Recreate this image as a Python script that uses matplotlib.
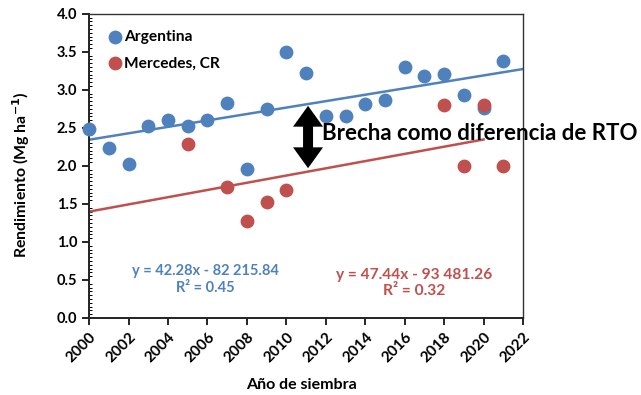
import matplotlib.pyplot as plt
import numpy as np

plt.rcParams['font.family'] = ['Lato', 'DejaVu Sans']

# data
years_arg = [2000, 2001, 2002, 2003, 2004, 2005, 2006, 2007, 2008, 2009, 2010,
             2011, 2012, 2013, 2014, 2015, 2016, 2017, 2018, 2019, 2020, 2021]
yield_arg = [2.48, 2.24, 2.03, 2.53, 2.61, 2.53, 2.61, 2.83, 1.96, 2.75, 3.50,
             3.22, 2.66, 2.66, 2.82, 2.87, 3.30, 3.18, 3.21, 2.93, 2.76, 3.38]

years_cr = [2005, 2007, 2008, 2009, 2010, 2018, 2019, 2020, 2021]
yield_cr = [2.29, 1.72, 1.28, 1.53, 1.68, 2.80, 2.00, 2.80, 2.00]

# trend equations (kg/ha), as printed on the chart
slope_arg, icpt_arg = 42.28, -82215.84
slope_cr, icpt_cr = 47.44, -93481.26
r2_arg, r2_cr = 0.45, 0.32

blue = '#4F81BD'
red = '#C0504D'

fig = plt.figure(figsize=(6.41, 3.95), dpi=100)
ax = fig.add_axes([0.139, 0.195, 0.677, 0.77])

ax.scatter(years_arg, yield_arg, s=80, color=blue, label='Argentina', zorder=3, clip_on=False)
ax.scatter(years_cr, yield_cr, s=80, color=red, label='Mercedes, CR', zorder=3, clip_on=False)

xa = np.array([2000, 2022])
ax.plot(xa, (slope_arg * xa + icpt_arg) / 1000, color=blue, lw=1.8, zorder=2)
xc = np.array([2000, 2020])
ax.plot(xc, (slope_cr * xc + icpt_cr) / 1000, color=red, lw=1.8, zorder=2)

ax.set_xlim(2000, 2022)
ax.set_ylim(0, 4)
ax.set_xticks(range(2000, 2023, 2))
ax.set_yticks(np.arange(0, 4.01, 0.5))
ax.set_yticklabels([f'{v:.1f}' for v in np.arange(0, 4.01, 0.5)])
ax.set_yticks(np.arange(0, 4.01, 0.05), minor=True)
plt.setp(ax.get_xticklabels(), rotation=45, ha='right', rotation_mode='anchor')
ax.tick_params(axis='y', labelsize=10.5, length=5, width=1.2, direction='out')
ax.tick_params(axis='x', labelsize=11, length=5, width=1.2, direction='out')
ax.tick_params(axis='y', which='minor', direction='in', length=2, width=0.7)
for lbl in ax.get_xticklabels() + ax.get_yticklabels():
    lbl.set_fontweight('bold')

for s in ['left', 'bottom']:
    ax.spines[s].set_linewidth(1.4)
    ax.spines[s].set_color('#222222')
for s in ['top', 'right']:
    ax.spines[s].set_linewidth(1.0)
    ax.spines[s].set_color('#333333')

ax.set_ylabel('Rendimiento (Mg ha$^{\\mathbf{-1}}$)', fontsize=11.4, fontweight='bold')
ax.yaxis.set_label_coords(-0.131, 0.47)
ax.set_xlabel('Año de siembra', fontsize=11.5, fontweight='bold')
ax.xaxis.set_label_coords(0.49, -0.197)

ax.legend(loc='upper left', bbox_to_anchor=(0.012, 0.988), frameon=False,
          handlelength=1.0, handletextpad=0.1, labelspacing=0.8,
          borderaxespad=0.4, borderpad=0.4, prop={'weight': 'bold', 'size': 11.2})

# equation labels
ax.text(2005.9, 0.51, f'y = {slope_arg:.2f}x - 82 215.84\nR² = {r2_arg:.2f}', color=blue,
        fontsize=10.5, fontweight='bold', ha='center', va='center', linespacing=1.25)
ax.text(2016.5, 0.46, f'y = {slope_cr:.2f}x - 93 481.26\nR² = {r2_cr:.2f}', color=red,
        fontsize=11.2, fontweight='bold', ha='center', va='center', linespacing=1.25)

# gap arrow, drawn as two single arrows from the middle
arrow_x, arrow_top, arrow_bot = 2011.1, 2.79, 1.97
arrow_mid = (arrow_top + arrow_bot) / 2
for end in (arrow_top, arrow_bot):
    ax.annotate('', xy=(arrow_x, end), xytext=(arrow_x, arrow_mid),
                arrowprops=dict(arrowstyle='simple,head_width=1.08,head_length=0.75,tail_width=0.36',
                                mutation_scale=20, color='black', lw=0,
                                shrinkA=0, shrinkB=0))
ax.text(2011.8, 2.43, 'Brecha como diferencia de RTO', fontsize=16, fontweight='bold',
        ha='left', va='center', clip_on=False, zorder=5)

fig.savefig('out.png', dpi=100)
